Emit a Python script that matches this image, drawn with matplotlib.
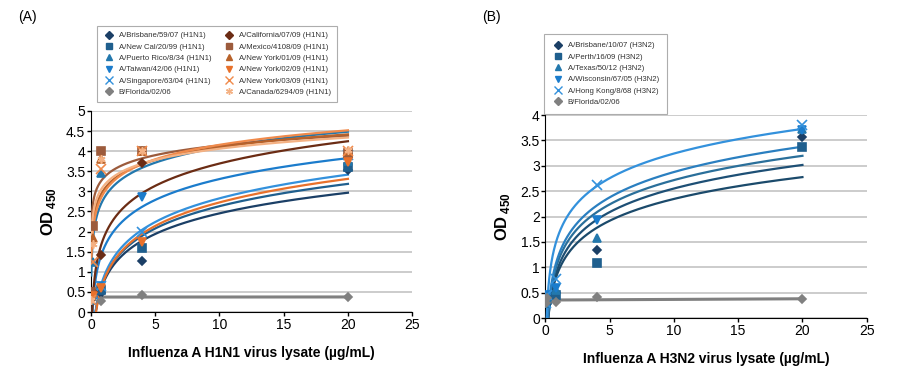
import numpy as np
import matplotlib
matplotlib.use('Agg')
import matplotlib.pyplot as plt
from matplotlib.lines import Line2D

plt.rcParams['font.family'] = ['Liberation Sans', 'DejaVu Sans']
plt.rcParams['mathtext.fontset'] = 'custom'
plt.rcParams['mathtext.rm'] = 'Liberation Sans'
plt.rcParams['mathtext.bf'] = 'Liberation Sans:bold'

# dilution series (ug/mL)
conc = [0.032, 0.16, 0.8, 4, 20]

# --- panel A : H1N1 ---
h1_names = ['A/Brisbane/59/07 (H1N1)', 'A/New Cal/20/99 (H1N1)', 'A/Puerto Rico/8/34 (H1N1)',
            'A/Taiwan/42/06 (H1N1)', 'A/Singapore/63/04 (H1N1)', 'B/Florida/02/06',
            'A/California/07/09 (H1N1)', 'A/Mexico/4108/09 (H1N1)', 'A/New York/01/09 (H1N1)',
            'A/New York/02/09 (H1N1)', 'A/New York/03/09 (H1N1)', 'A/Canada/6294/09 (H1N1)']
h1_colors = ['#1b3f66', '#1f5f8e', '#2378ad', '#1b7ccc', '#3391dc', '#808080',
             '#6b2c14', '#9c5b3c', '#b8622a', '#e8712b', '#f08a4b', '#f4b183']
h1_markers = ['D', 's', '^', 'v', 'x', 'D', 'D', 's', '^', 'v', 'x', (6, 2, 0)]
h1_values = [
    [0.35, 0.50, 0.48, 1.27, 3.52],
    [0.40, 0.45, 0.55, 1.60, 3.60],
    [0.30, 1.25, 3.45, 4.00, 3.75],
    [0.30, 0.40, 0.65, 2.85, 3.85],
    [0.30, 0.45, 0.65, 2.00, 3.90],
    [0.40, 0.40, 0.28, 0.42, 0.37],
    [0.50, 0.50, 1.43, 3.70, 3.85],
    [0.50, 2.15, 4.00, 4.00, 3.95],
    [0.40, 1.85, 3.80, 4.00, 4.00],
    [0.35, 0.40, 0.60, 1.73, 3.72],
    [0.30, 1.25, 3.55, 4.00, 4.00],
    [0.30, 1.70, 3.80, 4.00, 4.02],
]
# log trendline y = a*ln(x) + b (None = linear trend)
h1_fit_a = [0.74, 0.80, 0.555, 0.75, 0.85, None, 0.80, 0.348, 0.46, 0.845, 0.52, 0.40]
h1_fit_b = [0.75, 0.79, 2.82, 1.58, 0.87, None, 1.85, 3.34, 3.04, 0.78, 2.96, 3.14]

# --- panel B : H3N2 ---
h3_names = ['A/Brisbane/10/07 (H3N2)', 'A/Perth/16/09 (H3N2)', 'A/Texas/50/12 (H3N2)',
            'A/Wisconsin/67/05 (H3N2)', 'A/Hong Kong/8/68 (H3N2)', 'B/Florida/02/06']
h3_colors = ['#1b3f66', '#1f5f8e', '#2378ad', '#1b7ccc', '#3391dc', '#808080']
h3_line_colors = ['#1d4f75', '#1b4a6b', '#2a6f9a', '#2a7fc0', '#3391dc', '#808080']
h3_markers = ['D', 's', '^', 'v', 'x', 'D']
h3_values = [
    [0.30, 0.40, 0.50, 1.35, 3.56],
    [0.30, 0.35, 0.45, 1.08, 3.38],
    [0.30, 0.40, 0.55, 1.58, 3.72],
    [0.30, 0.45, 0.60, 1.93, 3.70],
    [0.30, 0.45, 0.78, 2.62, 3.80],
    [0.30, 0.40, 0.32, 0.42, 0.37],
]
h3_fit_a = [0.67, 0.62, 0.69, 0.72, 0.70, None]
h3_fit_b = [1.01, 0.92, 1.13, 1.22, 1.63, None]


def marker_size(m):
    if m == 'D':
        return 4.3
    if m == 'x':
        return 6.5
    return 5.8


def draw_panel(ax, names, colors, line_colors, markers, values, fit_a, fit_b, ymax, xlabel):
    xs = np.array(conc)
    xfit = np.linspace(xs[0], xs[-1], 600)
    for i in range(len(names)):
        ys = np.array(values[i])
        if fit_a[i] is None:
            p = np.polyfit(xs, ys, 1)
            xl = np.linspace(0, xs[-1], 600)
            ax.plot(xl, np.polyval(p, xl), color=line_colors[i], lw=2.2, zorder=3)
        else:
            yfit = fit_a[i] * np.log(xfit) + fit_b[i]
            ax.plot(xfit, yfit, color=line_colors[i], lw=1.6, zorder=3)
        ax.plot(xs, ys, ls='none', marker=markers[i], color=colors[i],
                ms=marker_size(markers[i]), mew=1.2, zorder=4)

    ax.set_xlim(0, 25)
    ax.set_ylim(0, ymax)
    ax.set_xticks([0, 5, 10, 15, 20, 25])
    ticks = np.arange(0, ymax + 0.01, 0.5)
    ax.set_yticks(ticks)
    ax.set_yticklabels(['%g' % v for v in ticks])
    ax.yaxis.grid(True, color='#c8c8c8', lw=1.3)
    ax.set_axisbelow(True)
    for s in ['top', 'right']:
        ax.spines[s].set_visible(False)
    ax.tick_params(labelsize=10, length=3, width=1, pad=1)
    ax.set_xlabel(xlabel, fontsize=10, fontweight='bold', labelpad=10)
    ax.set_ylabel(r'$\mathbf{OD\,}_{\mathbf{450}}$', fontsize=12, labelpad=6)


fig = plt.figure(figsize=(9, 3.76), dpi=100)
axA = fig.add_axes([0.101, 0.170, 0.357, 0.535])
axB = fig.add_axes([0.606, 0.154, 0.357, 0.540])

draw_panel(axA, h1_names, h1_colors, h1_colors, h1_markers, h1_values, h1_fit_a, h1_fit_b,
           5, 'Influenza A H1N1 virus lysate (µg/mL)')
draw_panel(axB, h3_names, h3_colors, h3_line_colors, h3_markers, h3_values, h3_fit_a, h3_fit_b,
           4, 'Influenza A H3N2 virus lysate (µg/mL)')


# legends (markers only)
def handles(names, colors, markers):
    return [Line2D([], [], ls='none', marker=m, color=c, ms=marker_size(m) * 0.85, mew=1.0, label=n)
            for n, c, m in zip(names, colors, markers)]


legA = axA.legend(handles=handles(h1_names, h1_colors, h1_markers), ncol=2, loc='upper left',
                  bbox_to_anchor=(0.019, 1.423), borderaxespad=0, fontsize=5.6, frameon=True,
                  fancybox=False, edgecolor='#999999', handletextpad=0.4, labelspacing=0.5,
                  columnspacing=1.5, handlelength=1.6, borderpad=0.8)
legA.get_frame().set_linewidth(0.8)
for t in legA.get_texts():
    t.set_color('#333333')

legB = axB.legend(handles=handles(h3_names, h3_colors, h3_markers), ncol=1, loc='upper left',
                  bbox_to_anchor=(-0.003, 1.399), borderaxespad=0, fontsize=5.6, frameon=True,
                  fancybox=False, edgecolor='#999999', handletextpad=0.4, labelspacing=0.5,
                  handlelength=1.6, borderpad=1.0)
legB.get_frame().set_linewidth(0.8)
for t in legB.get_texts():
    t.set_color('#333333')

fig.text(0.020, 0.955, '(A)', fontsize=10, va='center')
fig.text(0.536, 0.955, '(B)', fontsize=10, va='center')

fig.savefig('out.png', dpi=100)
